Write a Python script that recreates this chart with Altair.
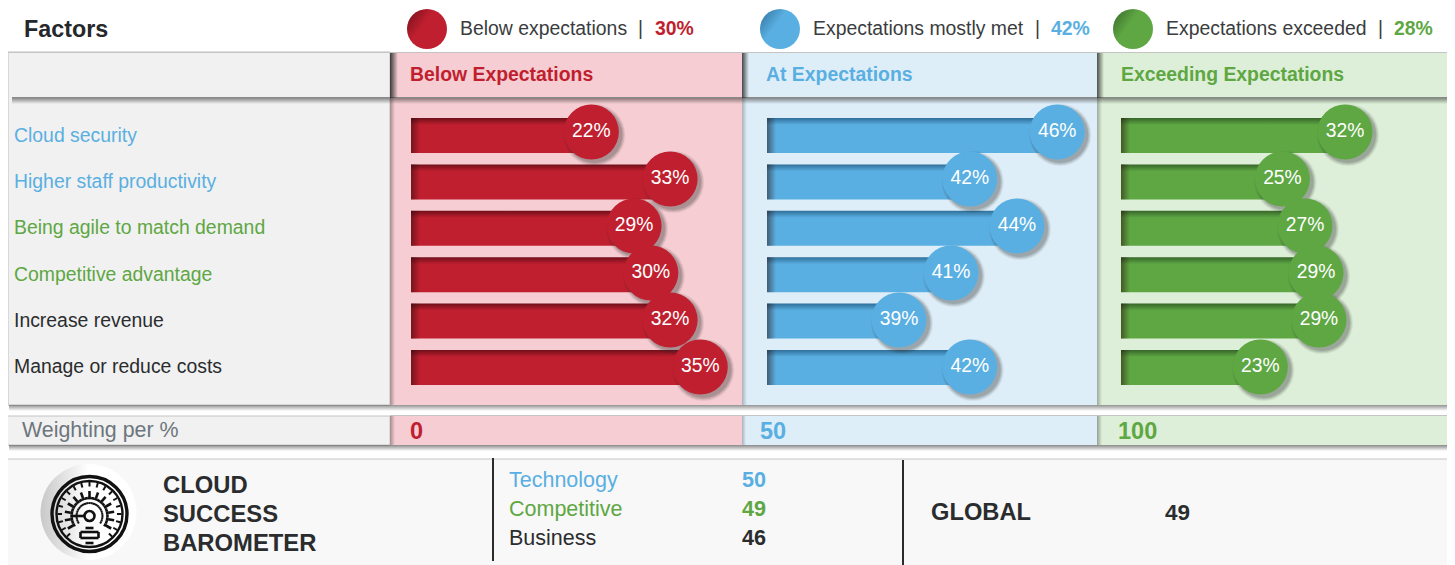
import math
import altair as alt
import pandas as pd

# ---- values ----
factors = ["Cloud security", "Higher staff productivity", "Being agile to match demand",
           "Competitive advantage", "Increase revenue", "Manage or reduce costs"]
factor_groups = ["tech", "tech", "comp", "comp", "biz", "biz"]

below_labels = [22, 33, 29, 30, 32, 35]
at_labels = [46, 42, 44, 41, 39, 42]
exceed_labels = [32, 25, 27, 29, 29, 23]

# plotted (unrounded) bar ends
below_ends = [22.0, 31.4, 27.1, 29.1, 31.4, 35.0]
at_ends = [46.0, 42.13, 44.22, 41.3, 39.0, 42.13]
exceed_ends = [32.0, 25.2, 27.65, 28.85, 29.17, 22.8]

legend_names = ["Below expectations", "Expectations mostly met", "Expectations exceeded"]
legend_pcts = ["30%", "42%", "28%"]
panel_titles = ["Below Expectations", "At Expectations", "Exceeding Expectations"]
weights = ["0", "50", "100"]
sub_names = ["Technology", "Competitive", "Business"]
sub_scores = ["50", "49", "46"]
global_score = "49"

# ---- style ----
RED, BLUE, GREEN, DARK = "#c01f2f", "#5aafe2", "#5ea743", "#2a2c2e"
FONT = "Liberation Sans"
group_color = {"tech": BLUE, "comp": GREEN, "biz": DARK}
ONE = pd.DataFrame({"a": [1]})
layers = []


def rect(x0, y0, x1, y1, fill, stroke=None):
    kw = {"stroke": stroke, "strokeWidth": 1} if stroke else {"strokeWidth": 0}
    return alt.Chart(ONE).mark_rect(color=fill, opacity=1, **kw).encode(
        x=alt.value(x0 - 8), x2=alt.value(x1 - 8), y=alt.value(y0 - 8), y2=alt.value(y1 - 8))


def grad(direction, c0, c1, mid=1.0):
    g = {"gradient": "linear", "x1": 0, "y1": 0, "x2": 0, "y2": 0,
         "stops": [{"offset": 0, "color": c0}, {"offset": mid, "color": c1}]}
    if direction == "d":
        g["x2"] = 0.75
        g["y2"] = 0.55
    else:
        g["x2" if direction == "h" else "y2"] = 1
    return g


def shade(x0, y0, x1, y1, direction, a=0.5):
    return rect(x0, y0, x1, y1, grad(direction, f"rgba(40,40,40,{a})", "rgba(40,40,40,0)"))


def txt(s, x, y, size, color, bold=False):
    return alt.Chart(ONE).mark_text(text=s, font=FONT, fontSize=size, color=color, align="left",
                                    baseline="alphabetic", fontWeight="bold" if bold else "normal"
                                    ).encode(x=alt.value(x - 8), y=alt.value(y - 8))


# ---- panels ----
layers += [
    rect(8, 52, 390, 405, "#f1f1f1", "#bfbfbf"),
    rect(390, 53, 742, 405, "#f6cdd2"),
    rect(742, 53, 1097, 405, "#deeef8"),
    rect(1097, 53, 1448, 405, "#ddefd8"),
    rect(8, 52, 1448, 53, "#c4c4c4"),
    shade(12, 97, 1448, 104, "v", 0.6),
    rect(12, 97, 1448, 98, "#8a8a8a"),
    shade(390, 53, 398, 98, "h", 0.9), shade(742, 53, 749, 98, "h", 0.85), shade(1097, 53, 1104, 98, "h", 0.8),
    shade(390, 98, 395, 405, "h", 0.4), shade(742, 98, 747, 405, "h", 0.3), shade(1097, 98, 1102, 405, "h", 0.35),
    rect(1447, 53, 1448, 405, "#b5b5b5"), shade(1448, 53, 1452, 408, "h", 0.4),
    shade(9, 405, 1450, 411, "v", 0.5),
    # weighting row
    rect(7, 416, 390, 445, "#f1f1f1", "#c4c4c4"),
    rect(390, 416, 742, 445, "#f6cdd2"),
    rect(742, 416, 1097, 445, "#deeef8"),
    rect(1097, 416, 1448, 445, "#ddefd8"),
    rect(390, 415, 1448, 416, "#c4c4c4"),
    shade(390, 416, 395, 445, "h", 0.4), shade(742, 416, 746, 445, "h", 0.3), shade(1097, 416, 1102, 445, "h", 0.4),
    shade(1448, 416, 1451, 448, "h", 0.4),
    shade(9, 445, 1450, 451, "v", 0.55),
    # footer
    rect(7, 459, 1448, 570, "#f8f8f8", "#c4c4c4"),
    shade(1448, 459, 1451, 565, "h", 0.35),
    rect(492, 458, 494, 561, "#2a2c2e"),
    rect(902, 460, 904, 565, "#2a2c2e"),
]

# ---- bars and bubbles ----
y_enc = alt.Y("factor:N", axis=None, sort=None,
              scale=alt.Scale(type="band", domain=factors, range=[110, 377], paddingInner=0.245, paddingOuter=0))
# the bubbles sit on a slightly wider pitch than the bars in the reference
y_bub = alt.Y("factor:N", axis=None, sort=None,
              scale=alt.Scale(type="point", domain=factors, range=[124, 359], padding=0))
panels = [
    (below_ends, below_labels, RED, "#6f0f1a", [0, 40], [399, 734.2], 0.48),
    (at_ends, at_labels, BLUE, "#2f6f99", [33, 47], [755.4, 1071.8], 33.16),
    (exceed_ends, exceed_labels, GREEN, "#37662a", [7, 33], [1107, 1346.2], 7.65),
]
bar_layers, shadow_layers, bubble_layers = [], [], []
for ends, labels, col, dk, dom, rng, start in panels:
    per_px = (dom[1] - dom[0]) / (rng[1] - rng[0])
    df = pd.DataFrame({"factor": factors, "end": ends, "label": [f"{v}%" for v in labels],
                       "start": start, "shade_end": start + 9 * per_px})
    x_enc = alt.X("end:Q", axis=None, scale=alt.Scale(domain=dom, range=rng))
    x_start = alt.X("start:Q", axis=None, scale=alt.Scale(domain=dom, range=rng))
    base = alt.Chart(df)
    bar_layers.append(base.mark_rect(strokeWidth=0, opacity=1, color={
        "gradient": "linear", "x1": 0, "y1": 0, "x2": 0, "y2": 1,
        "stops": [{"offset": 0, "color": dk}, {"offset": 0.2, "color": col}, {"offset": 1, "color": col}]
    }).encode(x=x_start, x2="end:Q", y=y_enc))
    bar_layers.append(base.mark_rect(strokeWidth=0, opacity=1,
                                     color=grad("h", "rgba(40,10,10,0.5)", "rgba(40,10,10,0)")
                                     ).encode(x=x_start, x2="shade_end:Q", y=y_enc))
    for d, o in [(62, 0.07), (60, 0.1), (58, 0.12), (56, 0.15)]:
        shadow_layers.append(base.mark_point(filled=True, size=d * d, color="#303030", opacity=o,
                                             strokeWidth=0, xOffset=3, yOffset=3).encode(x=x_enc, y=y_bub))
    bubble_layers.append(base.mark_point(filled=True, size=55 * 55, color=col, opacity=1, strokeWidth=0
                                         ).encode(x=x_enc, y=y_bub))
    bubble_layers.append(base.mark_text(font=FONT, fontSize=19.3, color="white", yOffset=-1, baseline="middle"
                                        ).encode(x=x_enc, y=y_bub, text="label:N"))
layers += bar_layers + shadow_layers + bubble_layers

# ---- factor labels ----
lab_df = pd.DataFrame({"factor": factors, "col": [group_color[g] for g in factor_groups]})
layers.append(alt.Chart(lab_df).mark_text(font=FONT, fontSize=19.4, align="left", baseline="middle", dy=0).encode(
    x=alt.value(6), y=y_enc, text="factor:N", color=alt.Color("col:N", scale=None)))

# ---- header and legend ----
layers.append(txt("Factors", 24, 37, 23.3, "#25282b", True))
leg_x = [427, 780, 1133]
leg_txt = [460, 813, 1166]
leg_bar = [638, 1035, 1378]
leg_pct = [655, 1051, 1394]
for i, (c, dk) in enumerate([(RED, "#6f0f1a"), (BLUE, "#2f6f99"), (GREEN, "#37662a")]):
    layers.append(alt.Chart(ONE).mark_point(filled=True, size=40 * 40, strokeWidth=0, opacity=1,
                                            color=grad("d", dk, c, 0.6)).encode(
        x=alt.value(leg_x[i] - 8), y=alt.value(29 - 8)))
    layers += [txt(legend_names[i], leg_txt[i], 35, 19.4, "#3a3c3e"),
               txt("|", leg_bar[i], 35, 19.4, "#3a3c3e"),
               txt(legend_pcts[i], leg_pct[i], 35, 19.4, c, True)]

# ---- panel titles and weighting ----
for t, x, c in zip(panel_titles, [410, 766, 1121], [RED, BLUE, GREEN]):
    layers.append(txt(t, x, 81, 19.4, c, True))
layers.append(txt("Weighting per %", 22, 437, 21.4, "#6d767c"))
for t, x, c in zip(weights, [410, 760, 1118], [RED, BLUE, GREEN]):
    layers.append(txt(t, x, 439, 23.5, c, True))

# ---- footer text ----
for t, y in zip(["CLOUD", "SUCCESS", "BAROMETER"], [493, 522, 551]):
    layers.append(txt(t, 163, y, 23.8, DARK, True))
for n, s, y, c in zip(sub_names, sub_scores, [487, 516, 545], [BLUE, GREEN, DARK]):
    layers.append(txt(n, 509, y, 21.5, c))
    layers.append(txt(s, 742, y, 21.6, c, True))
layers.append(txt("GLOBAL", 931, 520, 23.7, DARK, True))
layers.append(txt(global_score, 1165, 520, 22.5, DARK, True))

# ---- gauge icon ----
cx, cy = 89.5, 514
layers.append(alt.Chart(ONE).mark_point(filled=True, size=96 * 96, strokeWidth=0, opacity=1,
                                        color=grad("h", "#c8c8c8", "#ffffff", 0.5)).encode(
    x=alt.value(88.5 - 8), y=alt.value(512 - 8)))
for r, sw in [(37.5, 3.4), (33, 2.4)]:
    layers.append(alt.Chart(ONE).mark_point(filled=False, size=(2 * r) ** 2, stroke="#111111", strokeWidth=sw,
                                            opacity=1).encode(x=alt.value(cx - 8), y=alt.value(cy - 8)))


def seg(pts):
    return [{"x": a - 8, "y": b - 8, "x2": c - 8, "y2": d - 8} for a, b, c, d in pts]


def polar(r, deg, oy=0):
    t = math.radians(deg)
    return cx + r * math.sin(t), cy + oy - r * math.cos(t)


thick, thin = [], []
for deg in range(-135, 136, 15):
    thin.append((*polar(27.5, deg), *polar(32, deg)))
for deg in range(-120, 121, 20):
    thick.append((*polar(19, deg, 2), *polar(25, deg, 2)))
for deg in range(-125, 125, 10):
    thick.append((*polar(18, deg, 2), *polar(18, deg + 10, 2)))
    thin.append((*polar(13, deg, 2), *polar(13, deg + 10, 2)))
thick.append((cx - 18, cy + 2, cx - 5, cy + 2))
thick += [(cx - 9, cy + 18, cx + 9, cy + 18), (cx - 9, cy + 24, cx + 9, cy + 24),
          (cx - 9, cy + 18, cx - 9, cy + 24), (cx + 9, cy + 18, cx + 9, cy + 24),
          (cx - 4, cy + 29, cx + 4, cy + 29), (cx - 4, cy + 14, cx + 4, cy + 14)]
for pts, sw in [(thin, 2), (thick, 2.6)]:
    layers.append(alt.Chart(pd.DataFrame(seg(pts))).mark_rule(color="#111111", strokeWidth=sw).encode(
        x=alt.X("x:Q", scale=None, axis=None), x2="x2:Q",
        y=alt.Y("y:Q", scale=None, axis=None), y2="y2:Q"))
layers.append(alt.Chart(ONE).mark_point(filled=True, size=100, color="#f8f8f8", stroke="#111111", strokeWidth=2.6,
                                        opacity=1).encode(x=alt.value(cx - 8), y=alt.value(cy + 2 - 8)))

chart = alt.layer(*layers).resolve_scale(x="independent", y="independent").properties(
    width=1439, height=557, padding=0, background="white",
    autosize=alt.AutoSizeParams(type="none")
).configure_view(stroke=None)

chart.save("out.html", embed_options={"renderer": "svg", "actions": False})
